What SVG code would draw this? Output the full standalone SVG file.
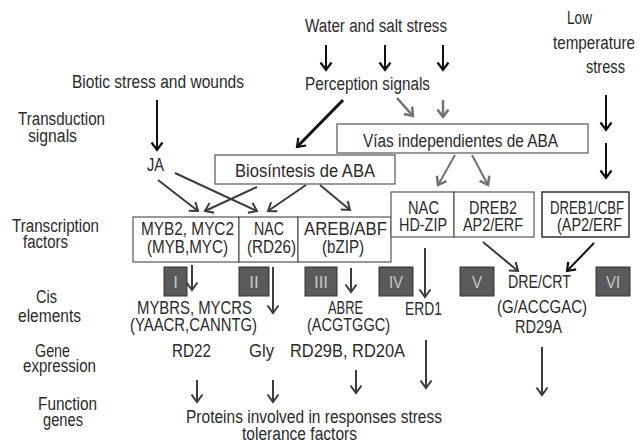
<svg xmlns="http://www.w3.org/2000/svg" width="640" height="443" viewBox="0 0 640 443">
<style>
text{font-family:"Liberation Sans",Arial,sans-serif;font-size:18.8px;fill:#2a2a2a}
.box{fill:#fff;stroke:#555;stroke-width:1.2}
.boxk{fill:#fff;stroke:#222;stroke-width:1.4}
.num{fill:#5a5a5a;stroke:#333;stroke-width:1}
.nt{fill:#c8c8c8;font-size:17px;text-anchor:middle}
.a{stroke:#3c3c3c;stroke-width:2;fill:none;marker-end:url(#ad)}
.k{stroke:#111;stroke-width:2;fill:none;marker-end:url(#ak)}
.g{stroke:#727272;stroke-width:2.5;fill:none;marker-end:url(#ag)}
</style>
<defs>
<marker id="ad" markerUnits="userSpaceOnUse" markerWidth="20" markerHeight="20" viewBox="-10 -10 20 20" refX="0" refY="0" orient="auto" overflow="visible"><path d="M-7.5,-5.5 L0,0 L-7.5,5.5" fill="none" stroke="#3c3c3c" stroke-width="2"/></marker>
<marker id="ak" markerUnits="userSpaceOnUse" markerWidth="20" markerHeight="20" viewBox="-10 -10 20 20" refX="0" refY="0" orient="auto" overflow="visible"><path d="M-7.5,-5.5 L0,0 L-7.5,5.5" fill="none" stroke="#111" stroke-width="2.2"/></marker>
<marker id="ag" markerUnits="userSpaceOnUse" markerWidth="20" markerHeight="20" viewBox="-10 -10 20 20" refX="0" refY="0" orient="auto" overflow="visible"><path d="M-7.5,-5.5 L0,0 L-7.5,5.5" fill="none" stroke="#727272" stroke-width="2.5"/></marker>
</defs>

<g id="labels">
<text x="18" y="125" textLength="87" lengthAdjust="spacingAndGlyphs">Transduction</text>
<text x="28" y="142" textLength="49" lengthAdjust="spacingAndGlyphs">signals</text>
<text x="12" y="232" textLength="87" lengthAdjust="spacingAndGlyphs">Transcription</text>
<text x="23" y="248" textLength="45" lengthAdjust="spacingAndGlyphs">factors</text>
<text x="36" y="303" textLength="21" lengthAdjust="spacingAndGlyphs">Cis</text>
<text x="18" y="322" textLength="63" lengthAdjust="spacingAndGlyphs">elements</text>
<text x="35" y="357" textLength="35" lengthAdjust="spacingAndGlyphs">Gene</text>
<text x="23" y="372" textLength="73" lengthAdjust="spacingAndGlyphs">expression</text>
<text x="38" y="410" textLength="59" lengthAdjust="spacingAndGlyphs">Function</text>
<text x="43" y="426" textLength="40" lengthAdjust="spacingAndGlyphs">genes</text>
</g>

<g id="water"><text x="305" y="32" textLength="142" lengthAdjust="spacingAndGlyphs">Water and salt stress</text></g>
<g id="perception"><text x="305" y="90" textLength="125" lengthAdjust="spacingAndGlyphs">Perception signals</text></g>
<g id="biotic"><text x="72" y="88" textLength="172" lengthAdjust="spacingAndGlyphs">Biotic stress and wounds</text></g>
<g id="lowtemp">
<text x="567" y="24" textLength="25" lengthAdjust="spacingAndGlyphs">Low</text>
<text x="553" y="49" textLength="82" lengthAdjust="spacingAndGlyphs">temperature</text>
<text x="586" y="73" textLength="39" lengthAdjust="spacingAndGlyphs">stress</text>
</g>
<g id="ja"><text x="147" y="171" textLength="17" lengthAdjust="spacingAndGlyphs">JA</text></g>

<g id="vias">
<rect class="box" x="337" y="124" width="251" height="29"/>
<text x="363" y="147" textLength="195" lengthAdjust="spacingAndGlyphs">Vías independientes de ABA</text>
</g>
<g id="biosintesis">
<rect class="box" x="215" y="155" width="180" height="29"/>
<text x="235" y="177" textLength="140" lengthAdjust="spacingAndGlyphs">Biosíntesis de ABA</text>
</g>

<g id="myb">
<rect class="box" x="133" y="217" width="106" height="45"/>
<text x="141" y="235" textLength="93" lengthAdjust="spacingAndGlyphs">MYB2, MYC2</text>
<text x="147" y="253" textLength="81" lengthAdjust="spacingAndGlyphs">(MYB,MYC)</text>
</g>
<g id="nac26">
<rect class="box" x="239" y="217" width="59" height="45"/>
<text x="254" y="235" textLength="30" lengthAdjust="spacingAndGlyphs">NAC</text>
<text x="247" y="253" textLength="49" lengthAdjust="spacingAndGlyphs">(RD26)</text>
</g>
<g id="areb">
<rect class="box" x="298" y="217" width="93" height="45"/>
<text x="304" y="235" textLength="83" lengthAdjust="spacingAndGlyphs">AREB/ABF</text>
<text x="322" y="253" textLength="42" lengthAdjust="spacingAndGlyphs">(bZIP)</text>
</g>
<g id="nachd">
<rect class="box" x="391" y="192" width="63" height="45"/>
<text x="408" y="214" textLength="31" lengthAdjust="spacingAndGlyphs">NAC</text>
<text x="399" y="231" textLength="48" lengthAdjust="spacingAndGlyphs">HD-ZIP</text>
</g>
<g id="dreb2">
<rect class="box" x="454" y="192" width="80" height="45"/>
<text x="469" y="214" textLength="48" lengthAdjust="spacingAndGlyphs">DREB2</text>
<text x="463" y="231" textLength="60" lengthAdjust="spacingAndGlyphs">AP2/ERF</text>
</g>
<g id="dreb1">
<rect class="boxk" x="542" y="192" width="87" height="45"/>
<text x="550" y="214" textLength="74" lengthAdjust="spacingAndGlyphs">DREB1/CBF</text>
<text x="557" y="231" textLength="65" lengthAdjust="spacingAndGlyphs">(AP2/ERF</text>
</g>

<g id="n1"><rect class="num" x="164" y="267" width="23" height="29"/><text class="nt" x="175.5" y="288">I</text></g>
<g id="n2"><rect class="num" x="239" y="267" width="30" height="29"/><text class="nt" x="254" y="288">II</text></g>
<g id="n3"><rect class="num" x="305" y="267" width="32" height="29"/><text class="nt" x="321" y="288">III</text></g>
<g id="n4"><rect class="num" x="379" y="267" width="34" height="29"/><text class="nt" x="396" y="288" textLength="14" lengthAdjust="spacingAndGlyphs">IV</text></g>
<g id="n5"><rect class="num" x="460" y="267" width="34" height="29"/><text class="nt" x="477" y="288" textLength="10" lengthAdjust="spacingAndGlyphs">V</text></g>
<g id="n6"><rect class="num" x="596" y="267" width="34" height="29"/><text class="nt" x="613" y="288" textLength="14" lengthAdjust="spacingAndGlyphs">VI</text></g>

<g id="cis1">
<text x="137" y="314" textLength="115" lengthAdjust="spacingAndGlyphs">MYBRS, MYCRS</text>
<text x="130" y="331" textLength="127" lengthAdjust="spacingAndGlyphs">(YAACR,CANNTG)</text>
</g>
<g id="cis3">
<text x="328" y="314" textLength="35" lengthAdjust="spacingAndGlyphs">ABRE</text>
<text x="307" y="331" textLength="83" lengthAdjust="spacingAndGlyphs">(ACGTGGC)</text>
</g>
<g id="erd1"><text x="405" y="315" textLength="37" lengthAdjust="spacingAndGlyphs">ERD1</text></g>
<g id="dre">
<text x="508" y="288" textLength="63" lengthAdjust="spacingAndGlyphs">DRE/CRT</text>
<text x="497" y="313" textLength="90" lengthAdjust="spacingAndGlyphs">(G/ACCGAC)</text>
<text x="515" y="333" textLength="47" lengthAdjust="spacingAndGlyphs">RD29A</text>
</g>

<g id="rd22"><text x="172" y="357" textLength="39" lengthAdjust="spacingAndGlyphs">RD22</text></g>
<g id="gly"><text x="249" y="357" textLength="25" lengthAdjust="spacingAndGlyphs">Gly</text></g>
<g id="rd29b"><text x="290" y="357" textLength="115" lengthAdjust="spacingAndGlyphs">RD29B, RD20A</text></g>

<g id="proteins">
<text x="186" y="423" textLength="256" lengthAdjust="spacingAndGlyphs">Proteins involved in responses stress</text>
<text x="242" y="440" textLength="115" lengthAdjust="spacingAndGlyphs">tolerance factors</text>
</g>

<g id="connectors">
<line class="k" x1="326" y1="45" x2="326" y2="70"/>
<line class="k" x1="385" y1="45" x2="385" y2="70"/>
<line class="k" x1="443" y1="45" x2="443" y2="70"/>
<line class="k" x1="157" y1="100" x2="157" y2="150"/>
<line class="k" x1="343" y1="100" x2="297" y2="147" style="stroke-width:3"/>
<line class="g" x1="397" y1="98" x2="413" y2="116"/>
<line class="g" x1="443" y1="100" x2="443" y2="117"/>
<line class="k" x1="606" y1="95" x2="606" y2="130"/>
<line class="k" x1="606" y1="143" x2="606" y2="178"/>
<line class="g" x1="455" y1="155" x2="438" y2="185" style="stroke-width:2"/>
<line class="g" x1="472" y1="155" x2="488" y2="185" style="stroke-width:2"/>
<line class="a" x1="158" y1="180" x2="198" y2="211"/>
<line class="a" x1="175" y1="173" x2="257" y2="211"/>
<line class="a" x1="257" y1="187" x2="205" y2="211"/>
<line class="a" x1="306" y1="185" x2="268" y2="211"/>
<line class="a" x1="320" y1="185" x2="350" y2="210"/>
<line class="a" x1="192" y1="265" x2="192" y2="290"/>
<line class="a" x1="273" y1="267" x2="273" y2="313"/>
<line class="a" x1="351" y1="268" x2="351" y2="292"/>
<line class="a" x1="425" y1="248" x2="425" y2="297"/>
<line class="a" x1="483" y1="242" x2="518" y2="271"/>
<line class="k" x1="594" y1="243" x2="567" y2="271"/>
<line class="a" x1="197" y1="380" x2="197" y2="402"/>
<line class="a" x1="273" y1="380" x2="273" y2="402"/>
<line class="a" x1="356" y1="370" x2="356" y2="393"/>
<line class="a" x1="426" y1="340" x2="426" y2="388"/>
<line class="a" x1="542" y1="347" x2="542" y2="395"/>
</g>
</svg>
